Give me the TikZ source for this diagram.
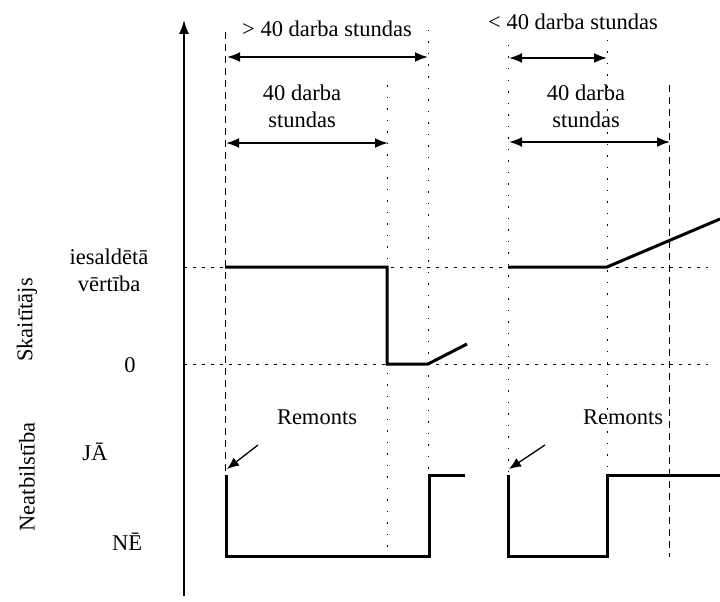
\documentclass[tikz,border=0pt]{standalone}
\usepackage{fontspec}
\setmainfont{Liberation Serif}
\usetikzlibrary{arrows.meta}

\tikzset{
  txt/.style={font=\fontsize{22.5}{27}\selectfont, inner sep=0pt, align=center},
  sig/.style={line width=3pt},
  guide/.style={line width=0.8pt, dash pattern=on 1.5pt off 10pt},
  level/.style={line width=0.8pt, dash pattern=on 3pt off 6pt},
  bound/.style={line width=1pt, dash pattern=on 7pt off 5pt},
  span/.style={{Latex[length=13pt,width=10pt]}-{Latex[length=13pt,width=10pt]}, line width=1.8pt},
  pointer/.style={-{Latex[length=12pt,width=10pt]}, line width=1.3pt}
}

\begin{document}
\begin{tikzpicture}[x=1pt, y=-1pt]
  \useasboundingbox (0,0) rectangle (720,602);

  % axis
  \coordinate (ax0) at (184,596);
  \coordinate (ax1) at (184,20);
  \draw[-{Latex[length=14pt,width=10pt]}, line width=1.5pt] (ax0) -- (ax1);

  % left side texts
  \node[txt, rotate=90] (skait) at (27,320) {Skaitītājs};
  \node[txt, rotate=90] (neatb) at (27,477) {Neatbilstība};
  \node[txt] (iesald) at (109,270) {iesaldētā\\vērtība};
  \node[txt] (nulle) at (130,365) {0};
  \node[txt] (ja) at (95,452) {JĀ};
  \node[txt] (ne) at (127,542) {NĒ};

  % levels
  \coordinate (lvA0) at (184,267);
  \coordinate (lvA1) at (708,267);
  \coordinate (lvB0) at (184,364);
  \coordinate (lvB1) at (708,364);
  \draw[level] (lvA0) -- (lvA1);
  \draw[level] (lvB0) -- (lvB1);

  % vertical guides
  \coordinate (g1t) at (225,32);  \coordinate (g1b) at (225,472);
  \coordinate (g2t) at (387,85);  \coordinate (g2b) at (387,555);
  \coordinate (g3t) at (428,30);  \coordinate (g3b) at (428,475);
  \coordinate (g4t) at (508,45);  \coordinate (g4b) at (508,475);
  \coordinate (g5t) at (607,40);  \coordinate (g5b) at (607,475);
  \coordinate (g6t) at (669,85);  \coordinate (g6b) at (669,557);
  \draw[bound] (g1t) -- (g1b);
  \draw[guide] (g2t) -- (g2b);
  \draw[guide] (g3t) -- (g3b);
  \draw[guide] (g4t) -- (g4b);
  \draw[guide] (g5t) -- (g5b);
  \draw[bound] (g6t) -- (g6b);

  % spans, left
  \node[txt] (overL) at (327,29) {> 40 darba stundas};
  \coordinate (s1a) at (227,57);  \coordinate (s1b) at (428,57);
  \draw[span] (s1a) -- (s1b);
  \node[txt] (fortyL) at (302,106) {40 darba\\stundas};
  \coordinate (s2a) at (226,143); \coordinate (s2b) at (388,143);
  \draw[span] (s2a) -- (s2b);

  % spans, right
  \node[txt] (underR) at (573,22) {< 40 darba stundas};
  \coordinate (s3a) at (509,58);  \coordinate (s3b) at (607,58);
  \draw[span] (s3a) -- (s3b);
  \node[txt] (fortyR) at (586,106) {40 darba\\stundas};
  \coordinate (s4a) at (509,142); \coordinate (s4b) at (670,142);
  \draw[span] (s4a) -- (s4b);

  % counter signal
  \coordinate (c1) at (225,267);
  \coordinate (c2) at (387,267);
  \coordinate (c3) at (387,364);
  \coordinate (c4) at (428,364);
  \coordinate (c5) at (467,344);
  \draw[sig] (c1) -- (c2) -- (c3) -- (c4) -- (c5);
  \coordinate (d1) at (508,267);
  \coordinate (d2) at (607,267);
  \coordinate (d3) at (720,219);
  \draw[sig] (d1) -- (d2) -- (d3);

  % nonconformity signal
  \coordinate (n1) at (226,475);
  \coordinate (n2) at (226,556);
  \coordinate (n3) at (429,556);
  \coordinate (n4) at (429,475);
  \coordinate (n5) at (465,475);
  \draw[sig] (n1) -- (n2) -- (n3) -- (n4) -- (n5);
  \coordinate (m1) at (508,475);
  \coordinate (m2) at (508,556);
  \coordinate (m3) at (607,556);
  \coordinate (m4) at (607,475);
  \coordinate (m5) at (720,475);
  \draw[sig] (m1) -- (m2) -- (m3) -- (m4) -- (m5);

  % repair markers
  \node[txt] (remL) at (317,417) {Remonts};
  \coordinate (rL0) at (258,445);
  \coordinate (rL1) at (227,469);
  \draw[pointer] (rL0) -- (rL1);
  \node[txt] (remR) at (623,417) {Remonts};
  \coordinate (rR0) at (545,445);
  \coordinate (rR1) at (509,469);
  \draw[pointer] (rR0) -- (rR1);
\end{tikzpicture}
\end{document}
